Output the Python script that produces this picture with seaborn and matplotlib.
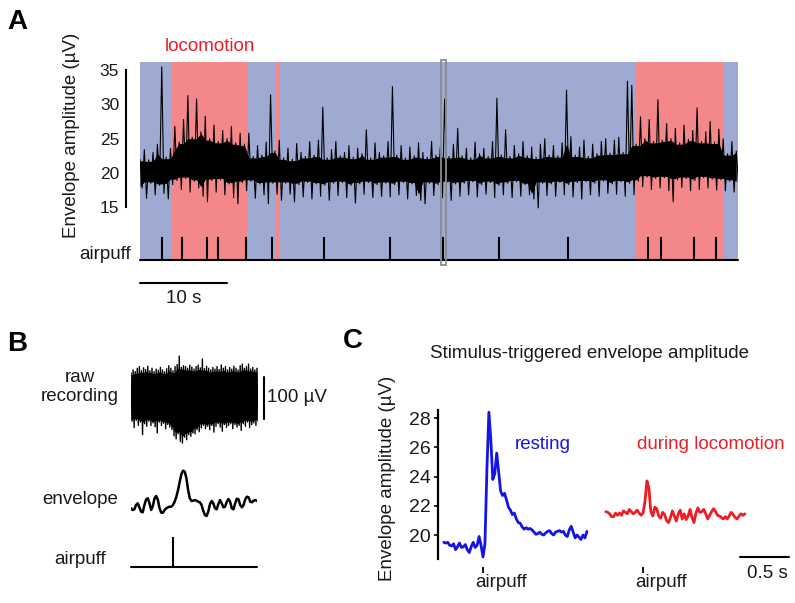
import matplotlib
matplotlib.use("Agg")
import matplotlib.pyplot as plt
import matplotlib.transforms as mtrans
from matplotlib.patches import Rectangle
import numpy as np
import pandas as pd
import seaborn as sns

W, H = 795, 603

# ---------------- panel A: envelope amplitude (upper / lower tips every 0.5 s)
a_step = 0.5
a_end = 68.7
a_hi = [22.0, 23.4, 21.9, 23.0, 24.2, 35.5, 22.3, 23.6,
        26.8, 24.5, 27.8, 31.3, 25.2, 30.8, 26.0, 28.3,
        25.0, 27.0, 24.6, 26.2, 25.0, 26.8, 24.4, 25.8,
        24.2, 25.8, 22.4, 24.0, 22.6, 24.5, 31.4, 23.2,
        24.8, 22.2, 23.6, 22.0, 24.3, 23.0, 22.4, 24.6,
        22.6, 24.8, 29.6, 22.2, 23.4, 24.6, 22.5, 23.0,
        24.0, 22.3, 23.6, 22.8, 26.3, 22.2, 24.4, 23.0,
        22.5, 24.6, 32.6, 22.6, 24.0, 22.2, 23.8, 22.5,
        24.4, 23.0, 22.3, 24.6, 22.6, 23.8, 30.8, 22.4,
        24.2, 26.5, 22.5, 23.6, 22.2, 24.5, 22.8, 23.6,
        22.4, 24.6, 30.9, 22.6, 26.3, 22.4, 24.0, 22.8,
        24.6, 22.5, 23.8, 22.3, 24.2, 25.0, 22.6, 24.0,
        22.5, 24.4, 32.1, 25.3, 22.6, 23.8, 24.8, 22.4,
        24.2, 22.8, 24.6, 25.0, 22.9, 24.8, 25.2, 23.0,
        33.4, 32.8, 24.2, 28.2, 25.0, 27.8, 24.6, 30.7,
        24.8, 27.2, 25.0, 26.5, 24.4, 27.0, 24.9, 26.2,
        29.5, 24.6, 26.0, 27.5, 24.5, 26.4, 25.0, 22.8,
        24.6, 23.2]
a_lo = [17.8, 16.3, 18.5, 16.8, 18.2, 17.0, 16.2, 18.3,
        18.9, 17.6, 19.2, 17.2, 18.8, 17.8, 16.6, 15.8,
        18.9, 17.2, 19.0, 16.8, 18.4, 16.4, 15.5, 18.6,
        17.4, 18.8, 16.3, 18.4, 16.8, 15.5, 18.5, 16.9,
        16.0, 18.5, 16.9, 15.8, 18.3, 16.5, 18.6, 16.2,
        18.4, 16.6, 18.2, 16.0, 18.5, 16.7, 18.6, 16.4,
        18.2, 15.6, 18.4, 16.9, 18.6, 16.4, 18.3, 16.6,
        18.5, 16.5, 18.3, 16.8, 18.6, 16.2, 18.4, 16.7,
        16.0, 15.5, 18.5, 16.7, 18.3, 16.4, 18.6, 16.0,
        18.4, 16.6, 18.5, 16.8, 18.7, 16.5, 18.3, 16.9,
        18.6, 16.4, 18.2, 16.8, 18.5, 16.4, 18.7, 16.6,
        18.3, 16.8, 16.2, 14.9, 18.5, 16.7, 18.4, 16.6,
        18.6, 16.8, 18.3, 16.5, 18.6, 16.2, 18.7, 16.8,
        18.5, 16.6, 18.8, 17.0, 18.4, 16.9, 18.7, 16.6,
        18.5, 16.8, 18.8, 18.0, 19.4, 17.6, 19.2, 17.8,
        19.3, 17.4, 15.8, 19.0, 17.9, 19.2, 17.4, 18.9,
        17.6, 19.3, 17.8, 19.1, 17.5, 19.0, 17.4, 18.8,
        17.2, 18.6]
loco_on = [3.7, 15.6, 57.0]
loco_off = [12.3, 16.0, 67.0]
a_puffs = [2.5, 4.8, 7.7, 9.0, 12.2, 15.2, 21.1, 28.7, 34.8,
           41.2, 49.2, 58.4, 59.9, 63.6, 66.2]
a_window = (34.6, 35.17)

# ---------------- panel B: single trial
b_step = 0.025
raw_hi = [55, 62, 58, 66, 70, 60, 67, 63, 71, 60, 66, 58, 64, 61, 68, 62,
          58, 65, 72, 66, 60, 70, 75, 95, 68, 72, 70, 66, 73, 69, 64, 70,
          74, 67, 88, 65, 71, 66, 62, 68, 64, 70, 63, 74, 66, 70, 62, 68,
          64, 71, 66, 62, 72, 76, 66, 70, 76, 64, 68, 62, 66]
raw_lo = [-60, -75, -58, -70, -62, -92, -66, -72, -60, -70, -64, -73, -88, -62,
          -70, -65, -78, -68, -74, -80, -95, -102, -90, -108, -112, -98, -104,
          -92, -96, -88, -90, -80, -85, -76, -70, -78, -72, -80, -70, -86, -72,
          -66, -74, -84, -68, -75, -70, -66, -78, -68, -74, -70, -82, -66, -72,
          -62, -75, -68, -64, -70, -60]
env_step = 0.02
env_b = [-8.3, -10, -9.3, -5, -3.3, -7.3, -11.7, -12.3, -5, 0.7, 1.7, -3.3,
         -10, -6, 1.7, 4, 0, -8.3, -12.7, -12.7, -10, -8.3, -7.3, -6.7, -6.7,
         -5, -1.7, 3.3, 10, 18.3, 26, 29.3, 28.3, 21.7, 10, 1.7, -1, -0.7, 0,
         -0.7, -1.7, -2.3, -5, -10.7, -15, -16, -11.7, -4, -1, -3.3, -8.3, -9.3,
         -4, 0, -3.3, -7.3, -6.7, -1.7, 1, -1.7, -8.3, -9.3, -3.3, 1.3, 0.7, -5,
         -7.3, -5, 0.7, 3.3, 2.7, -1.7, -2.3, -0.7, 0, -1]
b_puff = 0.0

# ---------------- panel C: stimulus-triggered averages
c_step = 0.02
rest_t0 = -0.40
rest_env = [19.5, 19.45, 19.5, 19.3, 19.25, 19.4, 19.0, 19.2, 19.45, 19.15,
            19.2, 19.35, 19.0, 18.8, 19.2, 19.5, 19.15, 19.3, 19.9, 19.3,
            18.5, 19.4, 24.5, 28.4, 26.5, 23.8, 24.2, 25.6, 24.3, 23.0,
            22.7, 22.85, 22.4, 21.9, 21.7, 21.4, 21.5, 21.1, 20.85, 20.8,
            20.55, 20.4, 20.5, 20.4, 20.45, 20.35, 20.2, 20.05, 20.1, 20.2,
            20.05, 20.0, 20.15, 20.25, 20.3, 20.1, 20.0, 20.2, 20.25, 20.3,
            20.2, 20.25, 20.0, 19.9, 20.35, 20.6, 20.2, 19.8, 20.0, 19.85,
            19.7, 20.0, 19.8, 20.25]
loco_t0 = -0.38
loco_env = [21.6, 21.55, 21.45, 21.25, 21.25, 21.5, 21.35, 21.5, 21.35, 21.65,
            21.55, 21.45, 21.75, 21.6, 21.45, 21.55, 21.7, 21.5, 21.35, 21.5,
            22.3, 23.7, 23.2, 21.6, 21.3, 21.9, 21.8, 21.3, 21.15, 21.55,
            21.4, 21.0, 20.85, 21.2, 21.65, 21.3, 20.95, 21.45, 21.7, 21.1,
            21.45, 21.05, 21.3, 21.75, 21.2, 20.85, 21.5, 21.85, 21.55, 21.6,
            21.75, 21.45, 21.1, 21.35, 21.6, 21.8, 21.6, 21.35, 21.3, 21.2,
            21.1, 21.25, 21.1, 21.3, 21.55, 21.4, 21.2, 21.1, 21.3, 21.45,
            21.35, 21.45]

BLUE_BG = "#9eaad1"
RED_BG = "#f3878a"
TXT = "#1a1a1a"
RED = "#ee1c24"
BLUE = "#1414e6"

sns.set_theme(style="white")
plt.rcParams["font.family"] = ["Liberation Sans", "DejaVu Sans"]

fig = plt.figure(figsize=(W / 100, H / 100), dpi=100)


def add_ax(x0, y0, x1, y1):
    # axes placed by pixel box (top-left origin)
    return fig.add_axes([x0 / W, 1 - y1 / H, (x1 - x0) / W, (y1 - y0) / H])


def label(x, y, s, **kw):
    kw.setdefault("ha", "center")
    kw.setdefault("va", "center")
    kw.setdefault("color", TXT)
    kw.setdefault("fontsize", 13.5)
    fig.text(x / W, 1 - y / H, s, **kw)


def zigzag(t0, step, hi, lo):
    t = t0 + step * np.arange(len(hi))
    return pd.DataFrame({"t": np.column_stack([t, t + step / 2]).ravel(),
                         "v": np.column_stack([hi, lo]).ravel()})


def dense_core(ax, t0, step, hi, lo, inset):
    # solid middle of a dense noisy trace
    t = t0 + step * np.arange(len(hi))
    top = pd.Series(hi).rolling(3, center=True, min_periods=1).min() - inset
    bot = pd.Series(lo).rolling(3, center=True, min_periods=1).max() + inset
    ax.fill_between(t, bot, top, color="black", lw=0)


# ======== panel A
ax_bg = add_ax(140, 62, 738, 260)
ax_bg.axvspan(0, a_end, color=BLUE_BG, lw=0)
for on, off in zip(loco_on, loco_off):
    ax_bg.axvspan(on, off, color=RED_BG, lw=0)
ax_bg.set_xlim(0, a_end)
ax_bg.axis("off")

ax_a = add_ax(140, 62, 738, 230)
ax_a.patch.set_visible(False)
dense_core(ax_a, 0, a_step, a_hi, a_lo, 0.2)
sns.lineplot(data=zigzag(0, a_step, a_hi, a_lo), x="t", y="v", ax=ax_a,
             color="black", lw=0.8, estimator=None, sort=False)
ax_a.set(xlim=(0, a_end), ylim=(11.67, 36.2), xlabel="", ylabel="", xticks=[])
ax_a.set_yticks([15, 20, 25, 30, 35])
for s in ["top", "right", "bottom"]:
    ax_a.spines[s].set_visible(False)
ax_a.spines["left"].set_position(("outward", 10))
ax_a.spines["left"].set_bounds(15, 35)
ax_a.spines["left"].set_linewidth(1.5)
ax_a.spines["left"].set_color("black")
ax_a.tick_params(axis="y", length=0, pad=5, labelsize=12.5, labelcolor=TXT)
ax_a.text(8.0, 38.4, "locomotion", color=RED, fontsize=13.5,
          ha="center", va="center", clip_on=False)

ax_p = add_ax(140, 230, 738, 260)
ax_p.patch.set_visible(False)
ax_p.vlines(a_puffs, 0, 1, color="black", lw=1.5)
ax_p.plot([0, a_end], [0, 0], color="black", lw=1.5, clip_on=False)
ax_p.plot([0, 10], [-1.0, -1.0], color="black", lw=1.5, clip_on=False)
ax_p.text(5, -1.65, "10 s", ha="center", va="center", fontsize=13.5,
          color=TXT, clip_on=False)
ax_p.add_patch(Rectangle((a_window[0], -0.167), a_window[1] - a_window[0], 6.83,
                         transform=ax_p.get_xaxis_transform(), fill=False,
                         edgecolor="#8c8c8c", lw=1.3, clip_on=False, zorder=5))
ax_p.set(xlim=(0, a_end), ylim=(0, 1.3))
ax_p.axis("off")

label(71.5, 135, "Envelope amplitude (µV)", rotation=90)
label(131, 254, "airpuff", ha="right")
label(17, 22, "A", fontsize=20, fontweight="bold", color="black")

# ======== panel B
ax_raw = add_ax(131, 355, 258, 445)
dense_core(ax_raw, -0.5, b_step, raw_hi, raw_lo, 4)
sns.lineplot(data=zigzag(-0.5, b_step, raw_hi, raw_lo), x="t", y="v", ax=ax_raw,
             color="black", lw=1.0, estimator=None, sort=False)
ax_raw.plot([1.083, 1.083], [-55, 45], color="black", lw=1.5, clip_on=False)
ax_raw.set(xlim=(-0.5, 1.0125), ylim=(-116.6, 97.6))
ax_raw.axis("off")

ax_env = add_ax(131, 462, 257, 522)
t_env = -0.5 + env_step * np.arange(len(env_b))
sns.lineplot(x=t_env, y=env_b, ax=ax_env, color="black", lw=1.8)
ax_env.set(xlim=(-0.5, 1.0), ylim=(-22, 38))
ax_env.axis("off")

ax_pb = add_ax(131, 530, 257, 570)
ax_pb.plot([-0.5, 1.0], [0, 0], color="black", lw=1.5, clip_on=False)
ax_pb.vlines([b_puff], 0, 1, color="black", lw=1.5)
ax_pb.set(xlim=(-0.5, 1.0), ylim=(-0.1, 1.233))
ax_pb.axis("off")

label(80, 387, "raw\nrecording", linespacing=1.15)
label(80, 500, "envelope")
label(80, 560, "airpuff")
label(267, 398, "100 µV", ha="left")
label(17, 344, "B", fontsize=20, fontweight="bold", color="black")

# ======== panel C
c_ylim = (18.36, 28.55)
ax_c1 = add_ax(437.7, 410, 592, 559)
ax_c2 = add_ax(600, 410, 790, 559)
t_rest = rest_t0 + c_step * np.arange(len(rest_env))
t_loco = loco_t0 + c_step * np.arange(len(loco_env))
sns.lineplot(x=t_rest, y=rest_env, ax=ax_c1, color=BLUE, lw=2.0)
sns.lineplot(x=t_loco, y=loco_env, ax=ax_c2, color=RED, lw=2.0)
ax_c1.set(xlim=(-0.462, 1.112), ylim=c_ylim)
ax_c2.set(xlim=(-0.439, 1.5), ylim=c_ylim)
offset = mtrans.ScaledTranslation(-8 / 100, 0, fig.dpi_scale_trans)
for ax in (ax_c1, ax_c2):
    ax.patch.set_visible(False)
    for s in ["top", "right"]:
        ax.spines[s].set_visible(False)
    ax.spines["bottom"].set_position(("outward", 5.8))
    ax.spines["bottom"].set_visible(False)
    ax.set_xticks([0])
    ax.set_xticklabels(["airpuff"], ha="left")
    ax.tick_params(axis="x", bottom=True, direction="out", length=4.3, width=1.3,
                   color="black", pad=0.5, labelsize=13.5, labelcolor=TXT)
    for lab in ax.get_xticklabels():
        lab.set_transform(lab.get_transform() + offset)
ax_c1.spines["left"].set_linewidth(1.6)
ax_c1.spines["left"].set_color("black")
ax_c1.set_yticks([20, 22, 24, 26, 28])
ax_c1.tick_params(axis="y", left=True, direction="out", length=2.7, width=1.2,
                  color="black", pad=2.2, labelsize=14, labelcolor=TXT)
ax_c2.spines["left"].set_visible(False)
ax_c2.set_yticks([])
ax_c1.text(0.612, 26.16, "resting", color=BLUE, fontsize=13.5, ha="center", va="center")
ax_c2.text(0.694, 26.16, "during locomotion", color=RED, fontsize=13.5,
           ha="center", va="center", clip_on=False)
ax_c2.plot([0.99, 1.49], [18.49, 18.49], color="black", lw=1.5, clip_on=False)
ax_c2.text(1.265, 17.37, "0.5 s", ha="center", va="center", fontsize=13.5,
           color=TXT, clip_on=False)

label(590, 353, "Stimulus-triggered envelope amplitude")
label(387, 478, "Envelope amplitude (µV)", rotation=90)
label(353, 341, "C", fontsize=20, fontweight="bold", color="black")

fig.savefig("out.png", dpi=100)
